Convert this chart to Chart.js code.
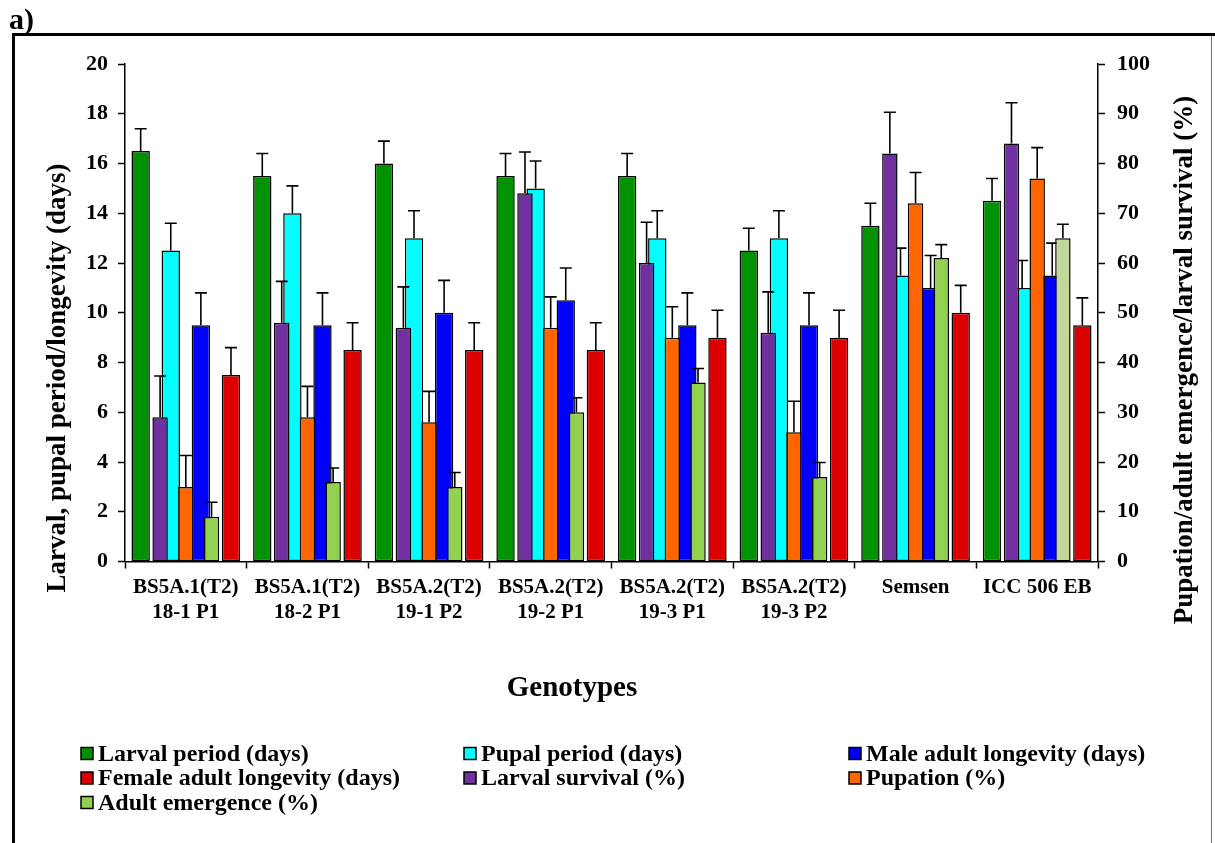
<!DOCTYPE html>
<html>
<head>
<meta charset="utf-8">
<script src="https://cdn.jsdelivr.net/npm/chart.js@4.4.0/dist/chart.umd.min.js"></script>
<style>
  html, body { margin: 0; padding: 0; background: #ffffff; }
  #wrap { position: relative; width: 1215px; height: 843px; }
  #wrap canvas { position: absolute; left: 0; top: 0; display: block; }
</style>
</head>
<body>
<div id="wrap">
  <canvas id="daysChart" width="1215" height="843"></canvas>
  <canvas id="percentChart" width="1215" height="843"></canvas>
</div>
<script>
// Genotypes on the category axis (two-line labels)
const genotypes = [
  ['BS5A.1(T2)', '18-1 P1'],
  ['BS5A.1(T2)', '18-2 P1'],
  ['BS5A.2(T2)', '19-1 P2'],
  ['BS5A.2(T2)', '19-2 P1'],
  ['BS5A.2(T2)', '19-3 P1'],
  ['BS5A.2(T2)', '19-3 P2'],
  ['Semsen'],
  ['ICC 506 EB']
];

// Left axis series (days) and their upper error values
const larvalPeriod       = [16.5, 15.5, 16.0, 15.5, 15.5, 12.5, 13.5, 14.5];
const larvalPeriodErr    = [0.9, 0.9, 0.9, 0.9, 0.9, 0.9, 0.9, 0.9];
const pupalPeriod        = [12.5, 14.0, 13.0, 15.0, 13.0, 13.0, 11.5, 11.0];
const pupalPeriodErr     = [1.1, 1.1, 1.1, 1.1, 1.1, 1.1, 1.1, 1.1];
const maleLongevity      = [9.5, 9.5, 10.0, 10.5, 9.5, 9.5, 11.0, 11.5];
const maleLongevityErr   = [1.3, 1.3, 1.3, 1.3, 1.3, 1.3, 1.3, 1.3];
const femaleLongevity    = [7.5, 8.5, 8.5, 8.5, 9.0, 9.0, 10.0, 9.5];
const femaleLongevityErr = [1.1, 1.1, 1.1, 1.1, 1.1, 1.1, 1.1, 1.1];

// Right axis series (%) and their upper error values
const larvalSurvival     = [29, 48, 47, 74, 60, 46, 82, 84];
const larvalSurvivalErr  = [8.3, 8.3, 8.2, 8.3, 8.2, 8.2, 8.3, 8.2];
const pupation           = [15, 29, 28, 47, 45, 26, 72, 77];
const pupationErr        = [6.3, 6.2, 6.2, 6.2, 6.2, 6.2, 6.2, 6.2];
const adultEmergence     = [9, 16, 15, 30, 36, 17, 61, 65];
const adultEmergenceErr  = [2.9, 2.8, 2.9, 2.9, 2.8, 2.9, 2.7, 2.8];

// Axis tick values
const daysTicks    = [0, 2, 4, 6, 8, 10, 12, 14, 16, 18, 20];
const percentTicks = [0, 10, 20, 30, 40, 50, 60, 70, 80, 90, 100];

const SERIF = "'Liberation Serif', 'Times New Roman', serif";

// Plot area shared by both layers
const AREA = { left: 125, right: 1098, top: 64, bottom: 561.5, width: 1215, height: 843 };

function barSeries(label, data, errors, color, catPct, barPct) {
  return {
    label, data, errors,
    backgroundColor: color, borderColor: '#000', borderWidth: 1.5, borderSkipped: false,
    categoryPercentage: catPct, barPercentage: barPct
  };
}

const daysDatasets = [
  barSeries('Larval period (days)', larvalPeriod, larvalPeriodErr, '#009200', 0.99, 0.61),
  barSeries('Pupal period (days)', pupalPeriod, pupalPeriodErr, '#00FFFF', 0.99, 0.61),
  barSeries('Male adult longevity (days)', maleLongevity, maleLongevityErr, '#0000FF', 0.99, 0.61),
  barSeries('Female adult longevity (days)', femaleLongevity, femaleLongevityErr, '#DD0000', 0.99, 0.61)
];
const percentDatasets = [
  barSeries('Larval survival (%)', larvalSurvival, larvalSurvivalErr, '#7030A0', 0.634, 0.6),
  barSeries('Pupation (%)', pupation, pupationErr, '#FF6600', 0.634, 0.6),
  barSeries('Adult emergence (%)', adultEmergence, adultEmergenceErr,
    ['#92D050', '#92D050', '#92D050', '#92D050', '#92D050', '#92D050', '#92D050', '#C4D79B'], 0.634, 0.6)
];

// Upward error bars with a cap, drawn right after each dataset
const errorBars = {
  id: 'errorBars',
  afterDatasetDraw(chart, args) {
    const ds = chart.data.datasets[args.index];
    if (!ds.errors) return;
    const meta = args.meta;
    const yScale = chart.scales[meta.yAxisID];
    const ctx = chart.ctx;
    ctx.save();
    ctx.strokeStyle = '#000';
    ctx.lineWidth = 1.6;
    meta.data.forEach((bar, i) => {
      const top = yScale.getPixelForValue(ds.data[i] + ds.errors[i]);
      ctx.beginPath();
      ctx.moveTo(bar.x, bar.y);
      ctx.lineTo(bar.x, top);
      ctx.moveTo(bar.x - 6, top);
      ctx.lineTo(bar.x + 6, top);
      ctx.stroke();
    });
    ctx.restore();
  }
};

// Frame, panel tag, axis titles and the three-column legend
const decorations = {
  id: 'decorations',
  afterDraw(chart) {
    const ctx = chart.ctx;
    ctx.save();

    ctx.strokeStyle = '#000';
    ctx.lineWidth = 3;
    ctx.beginPath();
    ctx.moveTo(13.5, 843);
    ctx.lineTo(13.5, 34.5);
    ctx.lineTo(1215, 34.5);
    ctx.stroke();
    ctx.strokeStyle = '#777';
    ctx.lineWidth = 1;
    ctx.beginPath();
    ctx.moveTo(1211.5, 36);
    ctx.lineTo(1211.5, 843);
    ctx.stroke();

    ctx.fillStyle = '#000';
    ctx.textBaseline = 'alphabetic';
    ctx.textAlign = 'left';
    ctx.font = 'bold 30px ' + SERIF;
    ctx.fillText('a)', 9, 29);

    ctx.textAlign = 'center';
    ctx.textBaseline = 'middle';
    ctx.font = 'bold 27px ' + SERIF;
    ctx.save();
    ctx.translate(58, 378);
    ctx.rotate(-Math.PI / 2);
    ctx.fillText('Larval, pupal period/longevity (days)', 0, 0);
    ctx.restore();
    ctx.save();
    ctx.translate(1185, 360);
    ctx.rotate(-Math.PI / 2);
    ctx.fillText('Pupation/adult emergence/larval survival (%)', 0, 0);
    ctx.restore();

    ctx.font = 'bold 29px ' + SERIF;
    ctx.fillText('Genotypes', 572, 689);

    const entries = daysDatasets.concat(percentDatasets);
    const cols = [81, 464, 849];
    const rows = [753.5, 778, 802.5];
    ctx.font = 'bold 24px ' + SERIF;
    ctx.textAlign = 'left';
    ctx.textBaseline = 'middle';
    entries.forEach((ds, i) => {
      const x = cols[i % 3];
      const y = rows[Math.floor(i / 3)];
      const fill = Array.isArray(ds.backgroundColor) ? ds.backgroundColor[0] : ds.backgroundColor;
      ctx.fillStyle = fill;
      ctx.fillRect(x, y - 6, 12, 12);
      ctx.strokeStyle = '#000';
      ctx.lineWidth = 1.5;
      ctx.strokeRect(x, y - 6, 12, 12);
      ctx.fillStyle = '#000';
      ctx.fillText(ds.label, x + 17, y + 1);
    });

    ctx.restore();
  }
};

const tickFont = { family: SERIF, size: 22, weight: 'bold' };
const catFont = { family: SERIF, size: 21, weight: 'bold' };
const axisGrid = { drawOnChartArea: false, drawTicks: true, tickLength: 7, tickColor: '#000', tickWidth: 1.5 };
const axisBorder = { display: true, color: '#000', width: 1.5 };

// Bottom layer: day-based bars, all axes, titles and legend
new Chart(document.getElementById('daysChart'), {
  type: 'bar',
  data: { labels: genotypes, datasets: daysDatasets },
  plugins: [decorations, errorBars],
  options: {
    responsive: false,
    devicePixelRatio: 1,
    animation: false,
    layout: { padding: { top: AREA.top, left: 0, right: 0, bottom: 0 } },
    plugins: { legend: { display: false }, tooltip: { enabled: false } },
    scales: {
      x: {
        type: 'category',
        offset: true,
        grid: Object.assign({ offset: true }, axisGrid),
        border: axisBorder,
        ticks: { color: '#000', font: catFont, padding: 6, maxRotation: 0, autoSkip: false },
        afterFit(scale) { scale.height = AREA.height - AREA.bottom; }
      },
      y: {
        position: 'left',
        min: daysTicks[0],
        max: daysTicks[daysTicks.length - 1],
        ticks: { stepSize: daysTicks[1] - daysTicks[0], color: '#000', font: tickFont, padding: 10 },
        grid: axisGrid,
        border: axisBorder,
        afterFit(scale) { scale.width = AREA.left; }
      },
      y2: {
        position: 'right',
        min: percentTicks[0],
        max: percentTicks[percentTicks.length - 1],
        ticks: { stepSize: percentTicks[1] - percentTicks[0], color: '#000', font: tickFont, padding: 12 },
        grid: axisGrid,
        border: axisBorder,
        afterFit(scale) { scale.width = AREA.width - AREA.right; }
      }
    }
  }
});

// Top layer: percentage bars on the same plot area, grouped on their own
new Chart(document.getElementById('percentChart'), {
  type: 'bar',
  data: { labels: genotypes, datasets: percentDatasets },
  plugins: [errorBars],
  options: {
    responsive: false,
    devicePixelRatio: 1,
    animation: false,
    layout: {
      padding: {
        top: AREA.top,
        left: AREA.left,
        right: AREA.width - AREA.right,
        bottom: AREA.height - AREA.bottom
      }
    },
    plugins: { legend: { display: false }, tooltip: { enabled: false } },
    scales: {
      x: { type: 'category', offset: true, display: false, grid: { offset: true } },
      y: {
        display: false,
        min: percentTicks[0],
        max: percentTicks[percentTicks.length - 1]
      }
    }
  }
});
</script>
</body>
</html>
